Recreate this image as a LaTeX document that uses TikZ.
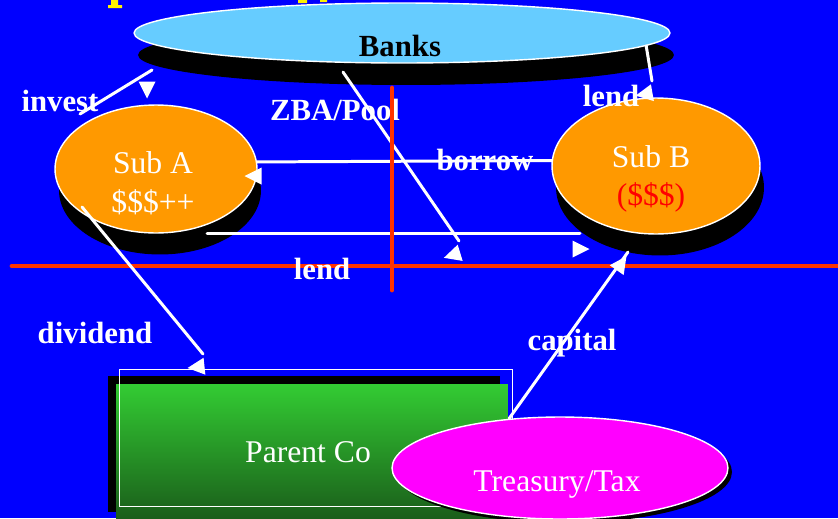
\documentclass[tikz,border=0pt]{standalone}
\usepackage{fontspec}
\setmainfont{Liberation Serif}
\usetikzlibrary{shapes.geometric}
\usetikzlibrary{shadows}
\usetikzlibrary{positioning}
\definecolor{slideblue}{HTML}{0000FF}
\definecolor{bankblue}{HTML}{66CCFF}
\definecolor{suborange}{HTML}{FF9900}
\definecolor{redline}{HTML}{FF3300}
\definecolor{parentlight}{HTML}{33CC33}
\definecolor{parentdark}{HTML}{1A5C1A}
\definecolor{taxpink}{HTML}{FF00FF}
\tikzset{
  oval/.style={ellipse, draw=white, line width=0.8pt, inner sep=0pt},
  bank/.style={oval, fill=bankblue, minimum width=10.72cm, minimum height=1.2cm,
    general shadow={fill=black, shadow xshift=0.08cm, shadow yshift=-0.44cm}},
  sub/.style={oval, fill=suborange, general shadow={fill=black, shadow xshift=0.08cm, shadow yshift=-0.43cm}},
  parent/.style={rectangle, inner sep=0pt, minimum width=7.84cm, minimum height=2.72cm,
    top color=parentlight, bottom color=parentdark,
    general shadow={fill=black, shadow xshift=-0.16cm, shadow yshift=0.16cm}},
  tax/.style={oval, fill=taxpink, minimum width=6.72cm, minimum height=2.04cm,
    general shadow={fill=black, shadow xshift=0.08cm, shadow yshift=-0.08cm}},
  boxtext/.style={text=white, align=center, font=\fontsize{18}{22}\selectfont},
  flowlabel/.style={text=white, font=\bfseries\fontsize{17.5}{20}\selectfont},
  flow/.style={draw=white, line width=1.7pt, line cap=round},
  divider/.style={draw=redline, line width=2.8pt, line cap=round},
  arrowhead/.pic={\fill[white] (0.19cm,0) -- (-0.15cm,0.17cm) -- (-0.15cm,-0.17cm) -- cycle;}
  }

\begin{document}
\begin{tikzpicture}[x=0.02cm, y=-0.02cm]
	% Frame
	\clip (0,0) rectangle (838,518);
	\fill[slideblue] (0,0) rectangle (838,518);
	\fill[yellow] (111,0) rectangle (118,6) (108,5) rectangle (122,8);
	\fill[yellow] (298,0) rectangle (307,3) (320,0) rectangle (327,2);

	% Nodes
	\node[bank] (banks) at (402,33) {};
	\node[font=\bfseries\fontsize{17.5}{20}\selectfont] (bankstext) at (400,46) {Banks};
	\node[sub, minimum width=4.04cm, minimum height=2.56cm] (suba) at (156,169) {};
	\node[boxtext] (subatext) at (153,183) {Sub A\\\$\$\$++};
	\node[sub, minimum width=4.16cm, minimum height=2.72cm] (subb) at (656,166) {};
	\node[boxtext] (subbtext) at (651,179) {Sub B\\\textcolor{red}{(\$\$\$)}};
	\node[parent] (parentco) at (312,452) {};
	\draw[white, line width=0.7pt] ([shift={(4,-14)}]parentco.south west) rectangle ([shift={(4,-14)}]parentco.north east);
	\node[boxtext] (parenttext) at (308,452) {Parent Co};
	\node[tax] (treasury) at (560,468) {};
	\node[boxtext] (treasurytext) at (557,484) {Treasury/Tax};

	\draw[divider] (12,266) -- (838,266);

	% Arrow
	\coordinate (investfrom) at (152,70);
	\coordinate (investto) at (80,114);
	\coordinate (zbafrom) at (343,72);
	\coordinate (zbato) at (459,241);
	\coordinate (lendfrom) at (207,233);
	\coordinate (lendto) at (580,233);
	\coordinate (dividendfrom) at (82,207);
	\coordinate (dividendto) at (203,354);
	\coordinate (lendbto) at (652,81);
	\coordinate (capitalto) at (628,252);

	\draw[flow] (investfrom) -- (investto);
	\draw[flow] (banks.-3.5) -- (lendbto);
	\draw[flow] (zbafrom) -- (zbato);
	\draw[flow] (subb.177) -- (suba.4);
	\draw[flow] (lendfrom) -- (lendto);
	\draw[flow] (dividendfrom) -- (dividendto);
	\draw[flow] (treasury.136) -- (capitalto);

	\pic[rotate=270] at (147,89) {arrowhead};
	\pic[rotate=190] at (645,94) {arrowhead};
	\pic[rotate=197] at (453,255) {arrowhead};
	\pic[rotate=180] at (254,176) {arrowhead};
	\pic at (580,249) {arrowhead};
	\pic[rotate=186] at (197,367) {arrowhead};
	\pic[rotate=55] at (621,264) {arrowhead};

	% Labels
	\node[flowlabel] (investlabel) at (60,101) {invest};
	\node[flowlabel] (zbalabel) at (335,110) {ZBA/Pool};
	\node[flowlabel] (lendblabel) at (611,96) {lend};
	\node[flowlabel] (borrowlabel) at (485,160) {borrow};
	\node[flowlabel] (lendlabel) at (322,269) {lend};
	\node[flowlabel] (dividendlabel) at (95,333) {dividend};
	\node[flowlabel] (capitallabel) at (572,343) {capital};

	\draw[divider] (392,88) -- (392,290);
\end{tikzpicture}
\end{document}
